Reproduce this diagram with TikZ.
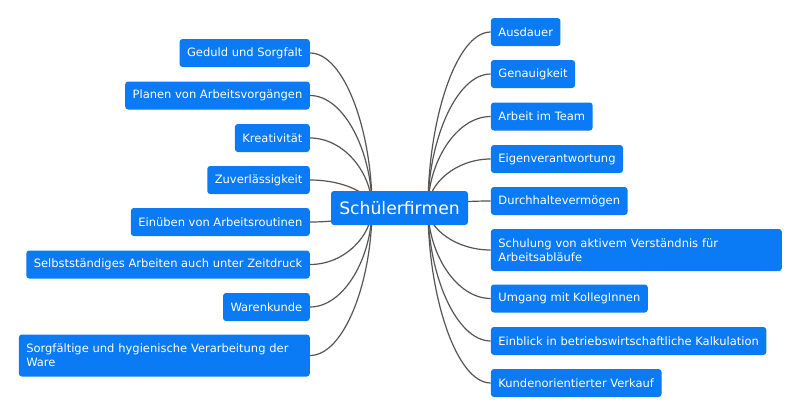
\documentclass[tikz,border=0pt]{standalone}
\usepackage{fontspec}
\setmainfont{DejaVu Sans}
\usetikzlibrary{calc}
\definecolor{boxblue}{RGB}{10,122,245}
\definecolor{linegray}{RGB}{85,85,85}
\pgfdeclarelayer{bgzero}
\pgfdeclarelayer{edges}
\pgfsetlayers{bgzero,edges,main}
\tikzset{
  leaf/.style={fill=boxblue, text=white, rounded corners=3pt, minimum height=28pt,
    inner xsep=7.5pt, inner ysep=3pt, font=\fontsize{11.5}{14}\selectfont},
  leafL/.style={leaf, anchor=east},
  leafR/.style={leaf, anchor=west},
  leaftwo/.style={text width=276pt, align=left, minimum height=42pt},
  hubbox/.style={fill=boxblue, text=white, rounded corners=3pt, minimum width=137pt,
    minimum height=34pt, inner sep=0pt, font=\fontsize{17.2}{20}\selectfont},
  conn/.style={draw=linegray, line width=1.2pt}
}
\newcommand\mmconn[2]{\draw[conn] let \p1=(#1), \p2=(#2) in (\p1) .. controls ({\x1+0.55*(\x2-\x1)},\y1) and (\x2,{0.5*(\y1+\y2)}) .. (\p2);}
\begin{document}
\begin{tikzpicture}[x=1pt,y=-1pt]
\begin{pgfonlayer}{bgzero}
\fill[white] (0,0) rectangle (800,415);
\end{pgfonlayer}
\useasboundingbox (0,0) rectangle (800,415);

\node[hubbox] (hub) at (399.5,208) {Schülerfirmen};
\coordinate (hubL) at (372,208);
\coordinate (hubR) at (428,208);

\node[leafL] (L1) at (310,53) {Geduld und Sorgfalt};
\node[leafL] (L2) at (310,95.5) {Planen von Arbeitsvorgängen};
\node[leafL] (L3) at (310,138) {Kreativität};
\node[leafL] (L4) at (310,180) {Zuverlässigkeit};
\node[leafL] (L5) at (310,222) {Einüben von Arbeitsroutinen};
\node[leafL] (L6) at (310,264.5) {Selbstständiges Arbeiten auch unter Zeitdruck};
\node[leafL] (L7) at (310,307) {Warenkunde};
\node[leafL,leaftwo] (L8) at (310,355.5) {Sorgfältige und hygienische Verarbeitung der\\Ware};

\node[leafR] (R1) at (490.7,32) {Ausdauer};
\node[leafR] (R2) at (490.7,74) {Genauigkeit};
\node[leafR] (R3) at (490.7,116.5) {Arbeit im Team};
\node[leafR] (R4) at (490.7,159) {Eigenverantwortung};
\node[leafR] (R5) at (490.7,201) {Durchhaltevermögen};
\node[leafR,leaftwo] (R6) at (490.7,250) {Schulung von aktivem Verständnis für\\Arbeitsabläufe};
\node[leafR] (R7) at (490.7,298.5) {Umgang mit KollegInnen};
\node[leafR] (R8) at (490.7,341) {Einblick in betriebswirtschaftliche Kalkulation};
\node[leafR] (R9) at (490.7,383) {Kundenorientierter Verkauf};

\begin{pgfonlayer}{edges}
\foreach \nd in {L1,L2,L3,L4,L5,L6,L7,L8} {\mmconn{\nd.east}{hubL}}
\foreach \nd in {R1,R2,R3,R4,R5,R6,R7,R8,R9} {\mmconn{\nd.west}{hubR}}
\end{pgfonlayer}
\end{tikzpicture}
\end{document}
